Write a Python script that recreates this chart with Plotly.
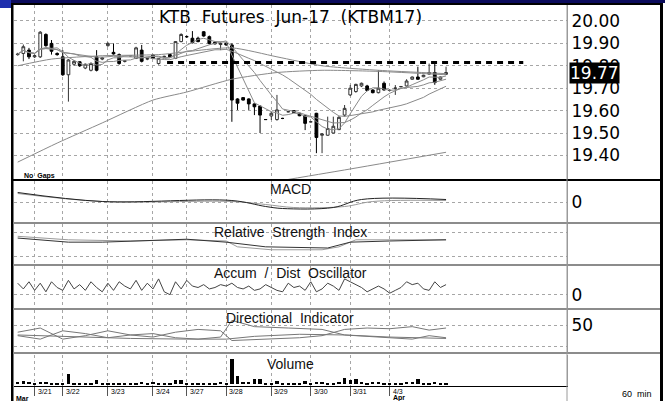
import plotly.graph_objects as go
import pandas as pd

W, H = 670, 401

# ---------------- data (hourly bars, index 0..76) ----------------
bars = list(range(77))
opens = [19.850, 19.855, 19.870, 19.840, 19.840, 19.940, 19.900, 19.855, 19.840, 19.760,
         19.807, 19.818, 19.790, 19.780, 19.840, 19.830, 19.890, 19.860, 19.850, 19.820,
         19.845, 19.833, 19.870, 19.830, 19.848, 19.810, 19.840, 19.850, 19.833, 19.908,
         19.930, 19.923, 19.923, 19.952, 19.930, 19.905, 19.895, 19.900, 19.893, 19.652,
         19.658, 19.652, 19.630, 19.620, 19.560, 19.576, 19.560, 19.565, 19.595, 19.600,
         19.588, 19.577, 19.550, 19.588, 19.490, 19.490, 19.500, 19.515, 19.580, 19.670,
         19.685, 19.710, 19.710, 19.692, 19.680, 19.722, 19.690, 19.700, 19.707, 19.710,
         19.740, 19.750, 19.751, 19.763, 19.770, 19.740, 19.762]
highs = [19.858, 19.895, 19.880, 19.850, 19.955, 19.945, 19.915, 19.860, 19.870, 19.830,
         19.825, 19.820, 19.810, 19.815, 19.870, 19.840, 19.905, 19.900, 19.855, 19.825,
         19.848, 19.885, 19.893, 19.835, 19.850, 19.835, 19.845, 19.852, 19.910, 19.945,
         19.935, 19.955, 19.930, 19.955, 19.935, 19.910, 19.905, 19.905, 19.900, 19.655,
         19.660, 19.655, 19.632, 19.623, 19.562, 19.595, 19.670, 19.568, 19.598, 19.602,
         19.590, 19.580, 19.553, 19.590, 19.500, 19.573, 19.573, 19.575, 19.625, 19.714,
         19.720, 19.725, 19.715, 19.695, 19.780, 19.730, 19.693, 19.714, 19.710, 19.740,
         19.752, 19.796, 19.760, 19.810, 19.810, 19.752, 19.796]
lows = [19.845, 19.820, 19.830, 19.835, 19.835, 19.885, 19.850, 19.845, 19.755, 19.640,
        19.800, 19.795, 19.785, 19.775, 19.775, 19.825, 19.885, 19.850, 19.805, 19.815,
        19.842, 19.830, 19.815, 19.825, 19.830, 19.805, 19.835, 19.838, 19.830, 19.905,
        19.925, 19.900, 19.905, 19.930, 19.895, 19.895, 19.870, 19.890, 19.550, 19.603,
        19.645, 19.603, 19.580, 19.500, 19.558, 19.558, 19.555, 19.562, 19.592, 19.590,
        19.575, 19.513, 19.547, 19.410, 19.410, 19.488, 19.498, 19.513, 19.573, 19.665,
        19.680, 19.705, 19.687, 19.677, 19.677, 19.690, 19.687, 19.670, 19.704, 19.708,
        19.738, 19.738, 19.749, 19.760, 19.715, 19.738, 19.760]
closes = [19.852, 19.885, 19.840, 19.845, 19.950, 19.890, 19.865, 19.850, 19.760, 19.826,
          19.820, 19.800, 19.807, 19.810, 19.780, 19.835, 19.900, 19.853, 19.810, 19.822,
          19.845, 19.880, 19.820, 19.832, 19.833, 19.833, 19.842, 19.840, 19.908, 19.940,
          19.930, 19.903, 19.908, 19.933, 19.900, 19.898, 19.900, 19.893, 19.647, 19.633,
          19.647, 19.630, 19.617, 19.580, 19.560, 19.588, 19.603, 19.565, 19.595, 19.592,
          19.577, 19.543, 19.550, 19.480, 19.495, 19.520, 19.530, 19.570, 19.610, 19.700,
          19.717, 19.722, 19.690, 19.680, 19.700, 19.692, 19.690, 19.700, 19.707, 19.732,
          19.750, 19.740, 19.758, 19.770, 19.725, 19.750, 19.770]
volume = [800, 1000, 600, 200, 600, 600, 200, 200, 200, 3000,
          200, 200, 200, 200, 1200, 200, 300, 300, 200, 200,
          500, 200, 800, 200, 600, 200, 200, 200, 1200, 1200,
          200, 200, 200, 200, 200, 300, 800, 200, 7500, 2500,
          800, 600, 1700, 1700, 200, 200, 900, 300, 200, 200,
          500, 900, 200, 600, 800, 200, 300, 600, 1900, 1200,
          1700, 800, 400, 600, 800, 400, 200, 200, 200, 800,
          600, 1700, 200, 200, 800, 200, 200]

# longer moving averages (bar index, price)
ma_slow_bars = [0, 6, 15, 25, 38, 46, 54, 64, 76]
ma_slow_vals = [19.800, 19.830, 19.845, 19.850, 19.880, 19.840, 19.800, 19.780, 19.765]
ma_long_bars = [0, 7, 15, 24, 30, 38, 46, 54, 64, 76]
ma_long_vals = [19.370, 19.455, 19.545, 19.647, 19.683, 19.740, 19.770, 19.780, 19.775, 19.760]
ma_vlong_bars = [45, 58, 76]
ma_vlong_vals = [19.280, 19.335, 19.414]

resist_level = 19.815
resist_from_bar = 26.5
resist_to_bar = 89.7
last_price = 19.77

# indicators
macd_bars = [0, 15, 38, 44, 47, 56, 61, 76]
macd_vals = [0.010, 0.001, 0.002, -0.004, -0.006, -0.005, 0.003, 0.003]
macd_sig_bars = [0, 15, 38, 44, 49, 58, 63, 76]
macd_sig_vals = [0.009, 0.001, 0.001, -0.002, -0.005, -0.004, 0.001, 0.002]

rsi_bars = [0, 9, 15, 30, 37, 44, 55, 59, 66, 76]
rsi_vals = [61, 54, 54, 59, 54, 46, 44, 54, 56, 58]
rsi_sig_bars = [0, 9, 20, 30, 37, 39, 45, 54, 57, 60, 76]
rsi_sig_vals = [64, 58, 56, 58, 56, 46, 41, 41, 46, 58, 58]

ad_osc = [8, 4, 9, 3, 8, 2, 9, 5, 3, 10, 4, 7, 3, 9, 5, 2, 8, 3, 9, 6,
          4, 10, 3, 8, 4, 11, 2, 0, 9, 4, 10, 6, 5, 7, 4, 5, 7, 6, 8, 5,
          4, 6, 3, 4, 7, 5, 3, 2, 8, 5, 6, 3, 9, 2, 4, 8, 6, 3, 11, 9,
          7, 5, 2, 4, 6, 4, 1, 3, 5, 9, 7, 8, 4, 3, 9, 5, 7]

di_plus_bars = [0, 4, 8, 12, 16, 20, 24, 28, 32, 36, 38, 44, 50, 54, 58, 62, 66, 70, 73, 76]
di_plus_vals = [40, 46, 30, 35, 42, 36, 33, 40, 44, 42, 28, 30, 32, 35, 44, 46, 45, 48, 43, 46]
di_minus_bars = [0, 4, 8, 12, 16, 20, 24, 28, 32, 36, 38, 42, 48, 54, 58, 62, 66, 70, 73, 76]
di_minus_vals = [35, 30, 42, 38, 32, 36, 38, 32, 30, 33, 57, 48, 46, 44, 36, 34, 33, 30, 35, 32]
adx_bars = [0, 10, 20, 30, 37, 42, 50, 58, 66, 76]
adx_vals = [36, 33, 31, 30, 30, 34, 37, 36, 33, 31]

day_start_bar = [3, 8, 16, 24, 30, 37, 45, 52, 59, 66]
day_labels = ['3/21', '3/22', '3/23', '3/24', '3/27', '3/28', '3/29', '3/30', '3/31', '4/3']
price_ticks = [19.40, 19.50, 19.60, 19.70, 19.80, 19.90, 20.00]

# ---------------- helpers ----------------
def px(x):
    return x / W

def py(y):
    return 1 - y / H

close_s = pd.Series(closes)
ma5 = close_s.rolling(5, min_periods=1).mean()
ma10 = close_s.rolling(10, min_periods=1).mean()
ma20 = close_s.rolling(20, min_periods=1).mean()

GRID = '#a6a6a6'
LINE_GRAY = '#8a8a8a'

fig = go.Figure()

# main panel
fig.add_trace(go.Candlestick(
    x=bars, open=opens, high=highs, low=lows, close=closes,
    increasing=dict(line=dict(color='#333333', width=1), fillcolor='white'),
    decreasing=dict(line=dict(color='#000000', width=1), fillcolor='black'),
    xaxis='x', yaxis='y', showlegend=False, hoverinfo='skip'))
for ser in (ma5, ma10, ma20):
    fig.add_trace(go.Scatter(x=bars, y=ser, mode='lines', line=dict(color=LINE_GRAY, width=1),
                             xaxis='x', yaxis='y', showlegend=False, hoverinfo='skip'))
for bx, vy in ((ma_slow_bars, ma_slow_vals), (ma_long_bars, ma_long_vals), (ma_vlong_bars, ma_vlong_vals)):
    fig.add_trace(go.Scatter(x=bx, y=vy, mode='lines', line=dict(color=LINE_GRAY, width=1, shape='spline', smoothing=0.6),
                             xaxis='x', yaxis='y', showlegend=False, hoverinfo='skip', cliponaxis=True))
fig.add_trace(go.Scatter(x=[resist_from_bar, resist_to_bar], y=[resist_level, resist_level], mode='lines',
                         line=dict(color='black', width=3, dash='6px,5px'),
                         xaxis='x', yaxis='y', showlegend=False, hoverinfo='skip'))

# MACD
fig.add_trace(go.Scatter(x=macd_sig_bars, y=macd_sig_vals, mode='lines', line=dict(color='#9a9a9a', width=1, shape='spline'),
                         xaxis='x2', yaxis='y2', showlegend=False, hoverinfo='skip'))
fig.add_trace(go.Scatter(x=macd_bars, y=macd_vals, mode='lines', line=dict(color='#222222', width=1, shape='spline'),
                         xaxis='x2', yaxis='y2', showlegend=False, hoverinfo='skip'))
# RSI
fig.add_trace(go.Scatter(x=rsi_sig_bars, y=rsi_sig_vals, mode='lines', line=dict(color='#9a9a9a', width=1),
                         xaxis='x3', yaxis='y3', showlegend=False, hoverinfo='skip'))
fig.add_trace(go.Scatter(x=rsi_bars, y=rsi_vals, mode='lines', line=dict(color='#333333', width=1),
                         xaxis='x3', yaxis='y3', showlegend=False, hoverinfo='skip'))
# A/D oscillator
fig.add_trace(go.Scatter(x=bars, y=ad_osc, mode='lines', line=dict(color='#444444', width=1),
                         xaxis='x4', yaxis='y4', showlegend=False, hoverinfo='skip'))
# Directional indicator
for bx, vy in ((di_plus_bars, di_plus_vals), (di_minus_bars, di_minus_vals), (adx_bars, adx_vals)):
    fig.add_trace(go.Scatter(x=bx, y=vy, mode='lines', line=dict(color='#777777', width=1),
                             xaxis='x5', yaxis='y5', showlegend=False, hoverinfo='skip'))
# Volume
fig.add_trace(go.Bar(x=bars, y=volume, width=0.6, marker=dict(color='black', line=dict(width=0)),
                     xaxis='x6', yaxis='y6', showlegend=False, hoverinfo='skip'))

# ---------------- axes ----------------
x_range = [-0.656, 97.46]
panels = [(5, 180), (181, 223), (224, 265), (266, 309), (310, 353), (355, 386)]
y_ranges = [[19.2902, 20.0714], [-0.0205, 0.0215], [15, 85], [-10, 20], [10, 72], [-510, 8790]]
y_ticks = [price_ticks, [0], [30, 70], [0], [20, 50], []]
y_text = [['%.2f' % v for v in price_ticks], ['0'], ['', ''], ['0'], ['', '50'], []]

layout = dict(width=W, height=H, autosize=False, margin=dict(l=0, r=0, t=0, b=0),
              paper_bgcolor='white', plot_bgcolor='white', showlegend=False, bargap=0)
for k in range(6):
    sx = '' if k == 0 else str(k + 1)
    xa = dict(domain=[px(14), px(567)], range=x_range, anchor='y' + sx,
              tickvals=day_start_bar, showticklabels=False, showgrid=True,
              gridcolor=GRID, griddash='dot', gridwidth=1, zeroline=False, ticks='',
              rangeslider=dict(visible=False), fixedrange=True)
    if k > 0:
        xa['matches'] = 'x'
    if k == 5:
        xa.update(showline=True, linecolor='#000000', linewidth=1, ticks='outside', ticklen=9,
                  tickcolor='#555555', tickwidth=1)
    layout['xaxis' + sx] = xa
    top, bot = panels[k]
    layout['yaxis' + sx] = dict(domain=[py(bot), py(top)], range=y_ranges[k], anchor='x' + sx,
                                side='right', tickvals=y_ticks[k], ticktext=y_text[k],
                                tickfont=dict(family='DejaVu Sans', size=17, color='black'),
                                showgrid=True, gridcolor=GRID, griddash='dot', gridwidth=1,
                                zeroline=False, ticks='', showline=True, linecolor='#9a9a9a',
                                linewidth=1, fixedrange=True)
fig.update_layout(**layout)

# ---------------- frame shapes ----------------
shapes = []
def rect(x0, y0, x1, y1, color):
    shapes.append(dict(type='rect', xref='paper', yref='paper', x0=px(x0), x1=px(x1), y0=py(y1), y1=py(y0),
                       fillcolor=color, line=dict(width=0), layer='above'))
rect(0, 0, 665, 3, '#0b0b5c')
rect(0, 0, 11, 8, '#1f2fae')
rect(11, 3, 13.5, 401, '#000000')
rect(660, 3, 663, 401, '#000000')
rect(13, 3, 660, 5, '#000000')
rect(13, 179, 660, 181, '#000000')
for yy in (223, 265, 309, 353):
    rect(13, yy - 1, 660, yy + 1, '#8c8c8c')
shapes.append(dict(type='line', xref='paper', yref='paper', x0=px(567), x1=px(567), y0=py(401), y1=py(5),
                   line=dict(color='#9a9a9a', width=1)))
fig.update_layout(shapes=shapes)

# ---------------- text ----------------
ann = []
def txt(x, y, s, size, family='Liberation Sans', anchor='center', color='black', xref='paper', **kw):
    d = dict(x=x if xref != 'paper' else px(x), y=py(y), xref=xref, yref='paper', text=s, showarrow=False,
             xanchor=anchor, yanchor='middle', font=dict(family=family, size=size, color=color))
    d.update(kw)
    ann.append(d)

NB = '\u00a0'
txt(290, 17, 'KTB' + NB * 2 + 'Futures' + NB * 2 + 'Jun-17' + NB * 2 + '(KTBM17)', 17, family='DejaVu Sans')
txt(22, 176, '<b>No' + NB * 2 + 'Gaps</b>', 7, anchor='left')
txt(290, 189, 'MACD', 14, color='#111111')
txt(290, 232, 'Relative' + NB * 2 + 'Strength' + NB * 2 + 'Index', 14, color='#111111')
txt(290, 273, 'Accum' + NB * 2 + '/' + NB * 2 + 'Dist' + NB * 2 + 'Oscillator', 14, color='#111111')
txt(290, 318, 'Directional' + NB * 2 + 'Indicator', 14, color='#111111')
txt(290, 364, 'Volume', 14, color='#111111')
for b, lab in zip(day_start_bar, day_labels):
    txt(b, 391, lab, 7, anchor='left', xref='x6', xshift=1)
txt(14, 398, '<b>Mar</b>', 7, anchor='left')
txt(day_start_bar[-1], 398, '<b>Apr</b>', 7, anchor='left', xref='x6', xshift=1)
txt(620, 394, '60' + NB * 2 + 'min', 9, anchor='left')
ann.append(dict(x=px(569), y=last_price, xref='paper', yref='y', text='%.2f' % last_price, showarrow=False,
                xanchor='left', yanchor='middle', bgcolor='black', borderpad=0,
                font=dict(family='DejaVu Sans', size=17, color='white')))
fig.update_layout(annotations=ann)

fig.write_html('out.html', config={'displayModeBar': False},
               post_script="document.body.style.margin='0';document.body.style.overflow='hidden';")
